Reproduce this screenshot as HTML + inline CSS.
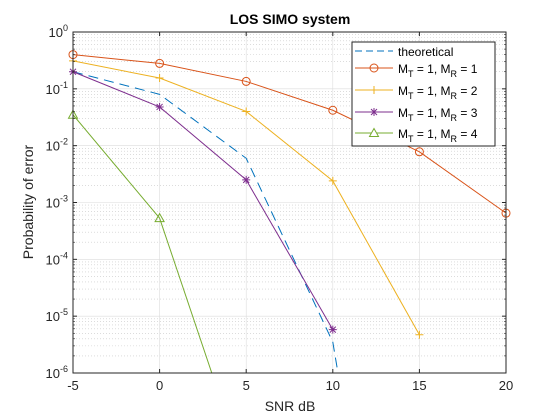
<!DOCTYPE html>
<html><head><meta charset="utf-8"><style>
html,body{margin:0;padding:0;background:#fff;width:560px;height:420px;overflow:hidden;position:relative;}
svg{display:block;font-family:"Liberation Sans","DejaVu Sans",sans-serif;}
</style></head><body>
<svg id="c" width="560" height="420" viewBox="0 0 560 420" style="position:absolute;left:0;top:0"></svg>
<script>
const snrM = [-5,0,5,10,15,20];
const ber1 = [0.4,0.28,0.135,0.042,0.0078,0.00065];
const ber2 = [0.31,0.155,0.04,0.0024,4.7e-6];
const ber3 = [0.2,0.048,0.0025,5.8e-6];
const ber4 = [0.035,5.3e-4,1.6e-8];
const snrT = [-5,0,5,10,15];
const berT = [0.2,0.08,0.006,3.5e-6,3e-15];
const xTicks = [-5,0,5,10,15,20];
const yExps = [0,-1,-2,-3,-4,-5,-6];

const L=73,R=506,T=32,B=373;
const X=v=>L+(v+5)/25*(R-L);
const Y=v=>T+(-Math.log10(v))/6*(B-T);
const svg=document.getElementById('c');
const NS='http://www.w3.org/2000/svg';
function mk(tag,attrs,parent){const e=document.createElementNS(NS,tag);for(const k in attrs)e.setAttribute(k,attrs[k]);(parent||svg).appendChild(e);return e;}

mk('rect',{x:L,y:T,width:R-L,height:B-T,fill:'#fff'});
const grid=mk('g',{});


for(let e=0;e>-6;e--){for(let m=2;m<=9;m++){const y=Y(m*Math.pow(10,e-1));mk('line',{x1:L,x2:R,y1:y,y2:y,stroke:'#c8c8c8','stroke-width':0.6,'stroke-dasharray':'1,2'},grid);}}
yExps.forEach(e=>{const y=Y(Math.pow(10,e));mk('line',{x1:L,x2:R,y1:y,y2:y,stroke:'#dcdcdc','stroke-width':0.6},grid);});
xTicks.forEach(v=>{const x=X(v);mk('line',{x1:x,x2:x,y1:T,y2:B,stroke:'#dcdcdc','stroke-width':0.6},grid);});

// nested svg clips the plotting region (coordinates offset by viewBox)
const plot=mk('svg',{x:L-6,y:T-6,width:R-L+12,height:B-T+6,viewBox:`${L-6} ${T-6} ${R-L+12} ${B-T+6}`,overflow:'hidden'});



function series(xs,ys,color,dash,marker,name){
  const g=mk('g',{},plot);
  
  
  const pts=xs.slice(0,ys.length).map((x,i)=>X(x)+','+Y(ys[i])).join(' ');
  const a={points:pts,fill:'none',stroke:color,'stroke-width':1};
  if(dash)a['stroke-dasharray']=dash;
  mk('polyline',a,g);
  if(marker)ys.forEach((v,i)=>drawMarker(g,marker,X(xs[i]),Y(v),color));
}
function drawMarker(g,m,x,y,c){
  if(m==='o')mk('circle',{cx:x,cy:y,r:4,fill:'none',stroke:c,'stroke-width':1},g);
  else if(m==='+'){mk('path',{d:`M${x-4},${y}H${x+4}M${x},${y-4}V${y+4}`,stroke:c,'stroke-width':1},g);}
  else if(m==='*'){mk('path',{d:`M${x-4},${y}H${x+4}M${x},${y-4}V${y+4}M${x-3},${y-3}L${x+3},${y+3}M${x-3},${y+3}L${x+3},${y-3}`,stroke:c,'stroke-width':1},g);}
  else if(m==='^')mk('polygon',{points:`${x},${y-4.5} ${x-4.5},${y+3.5} ${x+4.5},${y+3.5}`,fill:'none',stroke:c,'stroke-width':1},g);
}
series(snrT,berT,'#0072bd','10,6',null,'theoretical-line');
series(snrM,ber1,'#d95319',null,'o','series-mr1');
series(snrM,ber2,'#edb120',null,'+','series-mr2');
series(snrM,ber3,'#7e2f8e',null,'*','series-mr3');
series(snrM,ber4,'#77ac30',null,'^','series-mr4');

const ax=mk('g',{});


mk('rect',{x:L,y:T,width:R-L,height:B-T,fill:'none',stroke:'#262626','stroke-width':1},ax);
xTicks.forEach(v=>{const x=X(v);mk('line',{x1:x,x2:x,y1:B,y2:B-4,stroke:'#262626'},ax);mk('line',{x1:x,x2:x,y1:T,y2:T+4,stroke:'#262626'},ax);
  const t=mk('text',{x:x,y:B+17,'text-anchor':'middle','font-size':13,fill:'#262626'},ax);t.textContent=v;
  
  });
yExps.forEach(e=>{const y=Y(Math.pow(10,e));mk('line',{x1:L,x2:L+4,y1:y,y2:y,stroke:'#262626'},ax);mk('line',{x1:R,x2:R-4,y1:y,y2:y,stroke:'#262626'},ax);
  const t=mk('text',{x:L-5,y:y+5,'text-anchor':'end','font-size':13,fill:'#262626'},ax);
  
  
  t.textContent='10';const s=mk('tspan',{dy:-6,'font-size':9},t);s.textContent=e;});
for(let e=0;e>-6;e--){for(let m=2;m<=9;m++){const y=Y(m*Math.pow(10,e-1));mk('line',{x1:L,x2:L+2,y1:y,y2:y,stroke:'#262626','stroke-width':0.6},ax);mk('line',{x1:R,x2:R-2,y1:y,y2:y,stroke:'#262626','stroke-width':0.6},ax);}}
</script>
<svg width="560" height="420" style="position:absolute;left:0;top:0" font-family="Liberation Sans, DejaVu Sans, sans-serif">
<text x="290" y="24" text-anchor="middle" font-size="14" font-weight="bold" fill="#000">LOS SIMO system</text>
<text x="290" y="411" text-anchor="middle" font-size="14" fill="#262626">SNR dB</text>
<text transform="translate(33,202) rotate(-90)" text-anchor="middle" font-size="14" fill="#262626">Probability of error</text>
<g>
<rect x="352" y="42" width="143" height="104" fill="#fff" stroke="#262626" stroke-width="1"/>
<line x1="355" x2="393" y1="51" y2="51" stroke="#0072bd" stroke-dasharray="7,4"/>
<text x="398" y="56" font-size="12" fill="#000">theoretical</text>
<line x1="355" x2="393" y1="68" y2="68" stroke="#d95319"/><circle cx="374" cy="68" r="4" fill="none" stroke="#d95319"/>
<text x="398" y="73" font-size="12">M<tspan dy="4" font-size="9">T</tspan><tspan dy="-4"> = 1, M</tspan><tspan dy="4" font-size="9">R</tspan><tspan dy="-4"> = 1</tspan></text>
<line x1="355" x2="393" y1="90" y2="90" stroke="#edb120"/><path d="M370,90H378M374,86V94" stroke="#edb120"/>
<text x="398" y="95" font-size="12">M<tspan dy="4" font-size="9">T</tspan><tspan dy="-4"> = 1, M</tspan><tspan dy="4" font-size="9">R</tspan><tspan dy="-4"> = 2</tspan></text>
<line x1="355" x2="393" y1="112" y2="112" stroke="#7e2f8e"/><path d="M370,112H378M374,108V116M371,109L377,115M371,115L377,109" stroke="#7e2f8e"/>
<text x="398" y="117" font-size="12">M<tspan dy="4" font-size="9">T</tspan><tspan dy="-4"> = 1, M</tspan><tspan dy="4" font-size="9">R</tspan><tspan dy="-4"> = 3</tspan></text>
<line x1="355" x2="393" y1="133" y2="133" stroke="#77ac30"/><polygon points="374,128.5 369.5,136.5 378.5,136.5" fill="#fff" stroke="#77ac30"/>
<text x="398" y="138" font-size="12">M<tspan dy="4" font-size="9">T</tspan><tspan dy="-4"> = 1, M</tspan><tspan dy="4" font-size="9">R</tspan><tspan dy="-4"> = 4</tspan></text>
</g>
</svg>
</body></html>
